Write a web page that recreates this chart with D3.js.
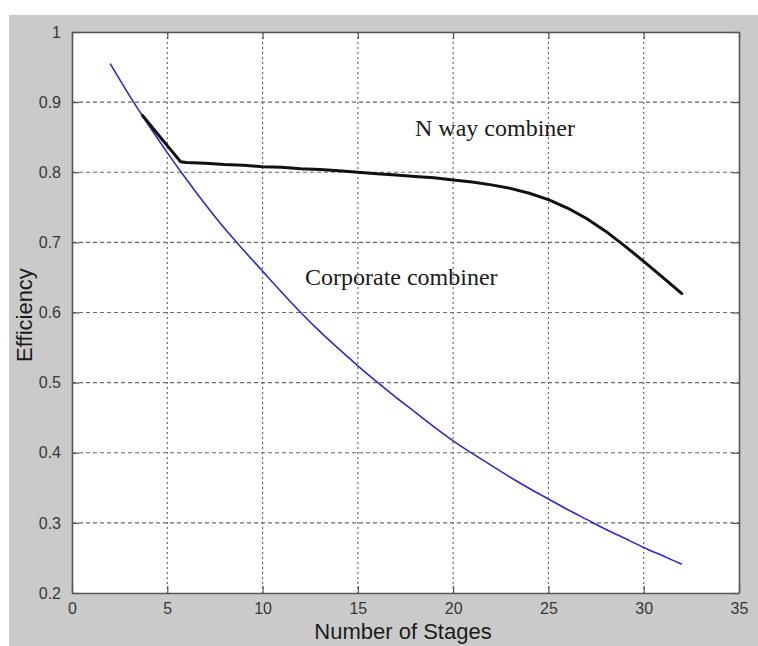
<!DOCTYPE html>
<html>
<head>
<meta charset="utf-8">
<script src="https://cdn.jsdelivr.net/npm/d3@7"></script>
<style>
  html, body { margin: 0; padding: 0; background: #ffffff; }
  svg { display: block; }
</style>
</head>
<body>
<div id="chart"></div>
<script>
// Stage counts and efficiencies of the two power-combiner topologies
const corporateStages = [2, 3, 4, 5, 6, 7, 8, 9, 10, 11, 12, 13, 14, 15, 16, 17,
  18, 19, 20, 21, 22, 23, 24, 25, 26, 27, 28, 29, 30, 31, 32];
const corporateEfficiency = [0.955, 0.910, 0.868, 0.828, 0.790, 0.754, 0.720, 0.689,
  0.659, 0.629, 0.600, 0.573, 0.548, 0.524, 0.501, 0.479, 0.458, 0.437, 0.417,
  0.399, 0.382, 0.365, 0.349, 0.334, 0.319, 0.305, 0.291, 0.278, 0.265, 0.253, 0.241];

const nWayStages = [3.7, 4, 5, 5.7, 6, 7, 8, 9, 10, 11, 12, 13, 14, 15, 16, 17,
  18, 19, 20, 21, 22, 23, 24, 25, 26, 27, 28, 29, 30, 31, 32];
const nWayEfficiency = [0.881, 0.871, 0.838, 0.815, 0.814, 0.813, 0.811, 0.810,
  0.808, 0.807, 0.805, 0.804, 0.802, 0.800, 0.798, 0.796, 0.794, 0.792, 0.789,
  0.786, 0.782, 0.777, 0.770, 0.761, 0.749, 0.734, 0.716, 0.695, 0.673, 0.650, 0.627];

const xTicks = [0, 5, 10, 15, 20, 25, 30, 35];
const yTicks = [0.2, 0.3, 0.4, 0.5, 0.6, 0.7, 0.8, 0.9, 1];

const W = 758, H = 646;
const svg = d3.select("#chart").append("svg").attr("width", W).attr("height", H);

// figure panel
svg.append("rect").attr("x", 9).attr("y", 15).attr("width", W - 9).attr("height", H - 15)
  .attr("fill", "#cacaca");

const x = d3.scaleLinear().domain([0, 35]).range([72, 739]);
const y = d3.scaleLinear().domain([0.2, 1]).range([593, 32]);

// axes box
svg.append("rect")
  .attr("x", x(0)).attr("y", y(1))
  .attr("width", x(35) - x(0)).attr("height", y(0.2) - y(1))
  .attr("fill", "#ffffff");

// dotted grid
const grid = svg.append("g").attr("stroke", "#6a6a6a").attr("stroke-width", 1.2);
grid.selectAll("line.v").data(xTicks.slice(1, -1)).join("line")
  .attr("class", "v")
  .attr("x1", d => x(d)).attr("x2", d => x(d))
  .attr("y1", y(1)).attr("y2", y(0.2))
  .attr("stroke-dasharray", "2,3");
grid.selectAll("line.h").data(yTicks.slice(1, -1)).join("line")
  .attr("class", "h")
  .attr("x1", x(0)).attr("x2", x(35))
  .attr("y1", d => y(d)).attr("y2", d => y(d))
  .attr("stroke-dasharray", "4,3");

// axes with inward ticks on all four sides
const tickFont = "16px 'Liberation Sans', Arial, sans-serif";
const axisBottomG = svg.append("g").attr("transform", `translate(0,${y(0.2)})`)
  .call(d3.axisBottom(x).tickValues(xTicks).tickSizeInner(-7).tickSizeOuter(0).tickPadding(10)
    .tickFormat(d3.format("d")));
const axisTopG = svg.append("g").attr("transform", `translate(0,${y(1)})`)
  .call(d3.axisTop(x).tickValues(xTicks).tickSizeInner(-7).tickSizeOuter(0).tickFormat(""));
const axisLeftG = svg.append("g").attr("transform", `translate(${x(0)},0)`)
  .call(d3.axisLeft(y).tickValues(yTicks).tickSizeInner(-7).tickSizeOuter(0).tickPadding(11)
    .tickFormat(d => d === 1 ? "1" : d3.format(".1f")(d)));
const axisRightG = svg.append("g").attr("transform", `translate(${x(35)},0)`)
  .call(d3.axisRight(y).tickValues(yTicks).tickSizeInner(-7).tickSizeOuter(0).tickFormat(""));

[axisBottomG, axisTopG, axisLeftG, axisRightG].forEach(g => {
  g.select(".domain").attr("stroke", "#555").attr("stroke-width", 1.6);
  g.selectAll(".tick line").attr("stroke", "#555").attr("stroke-width", 1.2);
  g.selectAll(".tick text").style("font", tickFont).attr("fill", "#383838");
});

// curves: the corporate curve is smooth, the N-way curve has a sharp knee
const smoothLine = d3.line().x(d => x(d[0])).y(d => y(d[1])).curve(d3.curveMonotoneX);
const straightLine = d3.line().x(d => x(d[0])).y(d => y(d[1])).curve(d3.curveLinear);

svg.append("path")
  .datum(corporateStages.map((s, i) => [s, corporateEfficiency[i]]))
  .attr("d", smoothLine)
  .attr("fill", "none").attr("stroke", "#2b2bcc").attr("stroke-width", 1.6);

svg.append("path")
  .datum(nWayStages.map((s, i) => [s, nWayEfficiency[i]]))
  .attr("d", straightLine)
  .attr("fill", "none").attr("stroke", "#111").attr("stroke-width", 3)
  .attr("stroke-linejoin", "round").attr("stroke-linecap", "round");

// annotations
const serif = "24px 'Liberation Serif', 'Times New Roman', serif";
svg.append("text").attr("x", 415).attr("y", 136).style("font", serif).attr("fill", "#1a1a1a")
  .text("N way combiner");
svg.append("text").attr("x", 305).attr("y", 285).style("font", serif).attr("fill", "#1a1a1a")
  .text("Corporate combiner");

// axis titles
const titleFont = "22px 'Liberation Sans', Arial, sans-serif";
svg.append("text").attr("x", 403).attr("y", 639).attr("text-anchor", "middle")
  .style("font", titleFont).attr("fill", "#1a1a1a").text("Number of Stages");
svg.append("text").attr("transform", "translate(32,315) rotate(-90)").attr("text-anchor", "middle")
  .style("font", titleFont).attr("fill", "#1a1a1a").text("Efficiency");
</script>
</body>
</html>
